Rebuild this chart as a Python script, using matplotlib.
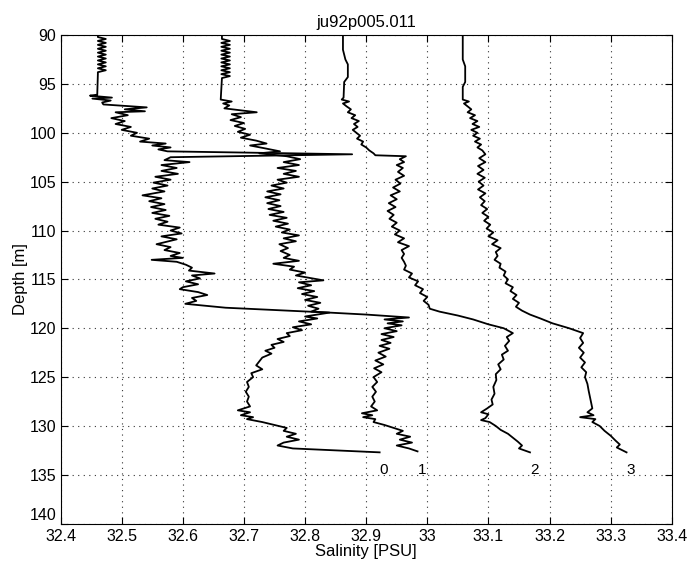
import matplotlib.pyplot as plt
import matplotlib.transforms as mtransforms

plt.rcParams['font.family'] = ['Liberation Sans', 'DejaVu Sans']

# cast 0
depth_0 = [90.0, 90.2, 90.4, 90.6, 90.8, 91.0, 91.2, 91.4, 91.6, 91.8, 92.0, 92.2, 92.4, 92.6,
           92.8, 93.0, 93.2, 93.4, 93.6, 93.8, 94.0, 96.1, 96.2, 96.4, 96.5, 96.7, 96.9, 97.1,
           97.4, 97.6, 97.8, 97.9, 98.2, 98.5, 98.8, 99.1, 99.4, 99.7, 100.0, 100.3, 100.6, 100.9,
           101.1, 101.3, 101.5, 101.7, 101.9, 102.2, 102.5, 102.8, 103.0, 103.3, 103.6, 103.9,
           104.2, 104.5, 104.8, 105.1, 105.4, 105.7, 106.0, 106.4, 106.7, 107.0, 107.3, 107.6,
           107.9, 108.2, 108.5, 108.8, 109.1, 109.4, 109.7, 110.0, 110.3, 110.6, 110.9, 111.2,
           111.4, 111.7, 112.0, 112.3, 112.6, 112.8, 113.0, 113.2, 113.5, 113.8, 114.1, 114.4,
           114.6, 114.9, 115.2, 115.5, 115.8, 116.0, 116.3, 116.6, 116.9, 117.2, 117.5, 117.9,
           118.4, 118.8, 119.0, 119.3, 119.6, 119.9, 120.2, 120.5, 120.8, 121.1, 121.4, 121.7,
           122.0, 122.3, 122.6, 123.0, 123.4, 123.8, 124.2, 124.6, 125.0, 125.5, 126.0, 126.5,
           127.0, 127.5, 128.0, 128.4, 128.6, 128.9, 129.1, 129.3, 129.6, 129.9, 130.2, 130.5,
           130.8, 131.1, 131.4, 131.7, 132.0, 132.3, 132.7]
sal_0 = [32.461, 32.461, 32.474, 32.461, 32.474, 32.461, 32.474, 32.461, 32.474, 32.461, 32.474,
         32.461, 32.474, 32.461, 32.474, 32.461, 32.474, 32.461, 32.474, 32.461, 32.461, 32.460,
         32.448, 32.484, 32.452, 32.482, 32.468, 32.470, 32.541, 32.505, 32.538, 32.490, 32.510,
         32.483, 32.505, 32.490, 32.515, 32.500, 32.525, 32.515, 32.545, 32.530, 32.572, 32.550,
         32.580, 32.560, 32.575, 32.877, 32.580, 32.570, 32.611, 32.565, 32.590, 32.565, 32.592,
         32.555, 32.580, 32.552, 32.575, 32.550, 32.570, 32.534, 32.565, 32.545, 32.570, 32.548,
         32.572, 32.550, 32.578, 32.555, 32.575, 32.560, 32.595, 32.580, 32.598, 32.565, 32.590,
         32.570, 32.557, 32.580, 32.570, 32.595, 32.580, 32.600, 32.549, 32.590, 32.605, 32.615,
         32.610, 32.652, 32.615, 32.628, 32.605, 32.625, 32.600, 32.595, 32.625, 32.640, 32.615,
         32.622, 32.604, 32.670, 32.840, 32.800, 32.820, 32.790, 32.810, 32.780, 32.795, 32.770,
         32.775, 32.755, 32.765, 32.745, 32.750, 32.735, 32.745, 32.730, 32.725, 32.720, 32.730,
         32.712, 32.715, 32.705, 32.708, 32.703, 32.708, 32.705, 32.710, 32.690, 32.710, 32.695,
         32.715, 32.705, 32.730, 32.750, 32.770, 32.765, 32.785, 32.770, 32.790, 32.765, 32.755,
         32.780, 32.922]

# cast 1
depth_1 = [90.0, 90.4, 90.6, 90.8, 91.0, 91.2, 91.4, 91.6, 91.8, 92.0, 92.2, 92.4, 92.6, 92.8,
           93.0, 93.2, 93.4, 93.6, 93.8, 94.0, 94.2, 94.4, 96.6, 96.8, 97.0, 97.2, 97.5, 97.9,
           98.1, 98.4, 98.7, 99.0, 99.3, 99.6, 99.9, 100.2, 100.5, 100.8, 101.1, 101.3, 101.6,
           101.9, 102.1, 102.4, 102.7, 103.0, 103.3, 103.6, 103.9, 104.2, 104.5, 104.8, 105.1,
           105.4, 105.7, 106.0, 106.3, 106.6, 106.9, 107.2, 107.5, 107.8, 108.1, 108.4, 108.7,
           109.0, 109.3, 109.6, 109.9, 110.2, 110.5, 110.8, 111.1, 111.4, 111.8, 112.1, 112.5,
           112.8, 113.1, 113.4, 113.7, 114.0, 114.3, 114.6, 114.9, 115.1, 115.3, 115.6, 115.9,
           116.2, 116.5, 116.8, 117.1, 117.4, 117.7, 118.0, 118.3, 118.6, 118.9, 119.1, 119.3,
           119.5, 119.7, 120.0, 120.3, 120.6, 120.9, 121.2, 121.5, 121.8, 122.1, 122.5, 122.9,
           123.3, 123.7, 124.1, 124.5, 125.0, 125.5, 126.0, 126.5, 127.0, 127.5, 128.0, 128.4,
           128.7, 128.9, 129.1, 129.3, 129.6, 129.9, 130.2, 130.5, 130.8, 131.1, 131.4, 131.7,
           132.0, 132.3, 132.6]
sal_1 = [32.664, 32.664, 32.677, 32.663, 32.677, 32.663, 32.677, 32.663, 32.677, 32.663, 32.677,
         32.663, 32.677, 32.663, 32.677, 32.663, 32.677, 32.663, 32.677, 32.663, 32.677, 32.664,
         32.662, 32.680, 32.666, 32.676, 32.668, 32.721, 32.680, 32.695, 32.678, 32.700, 32.685,
         32.702, 32.690, 32.710, 32.695, 32.720, 32.737, 32.710, 32.735, 32.759, 32.725, 32.770,
         32.792, 32.765, 32.790, 32.755, 32.785, 32.765, 32.790, 32.755, 32.770, 32.745, 32.765,
         32.738, 32.760, 32.735, 32.758, 32.738, 32.760, 32.740, 32.765, 32.742, 32.770, 32.748,
         32.772, 32.752, 32.775, 32.762, 32.790, 32.765, 32.785, 32.758, 32.772, 32.760, 32.775,
         32.765, 32.790, 32.748, 32.782, 32.775, 32.800, 32.785, 32.812, 32.830, 32.790, 32.810,
         32.788, 32.815, 32.795, 32.820, 32.800, 32.825, 32.805, 32.822, 32.810, 32.900, 32.970,
         32.930, 32.960, 32.935, 32.958, 32.930, 32.950, 32.925, 32.945, 32.925, 32.940, 32.922,
         32.938, 32.920, 32.932, 32.915, 32.928, 32.913, 32.925, 32.912, 32.918, 32.910, 32.916,
         32.910, 32.914, 32.908, 32.918, 32.893, 32.910, 32.895, 32.915, 32.912, 32.930, 32.945,
         32.960, 32.950, 32.972, 32.955, 32.975, 32.950, 32.970, 32.984]

# cast 2
depth_2 = [90.0, 91.5, 92.5, 93.0, 94.3, 94.8, 96.4, 96.6, 96.8, 97.0, 97.3, 97.6, 97.9, 98.2,
           98.5, 98.8, 99.1, 99.4, 99.7, 100.0, 100.3, 100.6, 100.9, 101.2, 101.5, 101.8, 102.1,
           102.3, 102.4, 102.7, 103.0, 103.3, 103.6, 104.0, 104.4, 104.8, 105.2, 105.6, 106.0,
           106.4, 106.8, 107.2, 107.6, 108.0, 108.4, 108.8, 109.2, 109.6, 110.0, 110.4, 110.8,
           111.2, 111.6, 112.0, 112.4, 112.8, 113.2, 113.6, 114.0, 114.4, 114.8, 115.2, 115.6,
           116.0, 116.4, 116.8, 117.2, 117.6, 118.0, 118.3, 118.7, 119.1, 119.6, 120.0, 120.5,
           120.9, 121.3, 121.8, 122.3, 122.7, 123.2, 123.7, 124.2, 124.7, 125.3, 126.0, 126.7,
           127.3, 127.8, 128.2, 128.6, 128.8, 129.2, 129.4, 129.6, 130.0, 130.4, 130.8, 131.2,
           131.6, 132.0, 132.3, 132.7]
sal_2 = [32.862, 32.862, 32.866, 32.870, 32.870, 32.864, 32.863, 32.860, 32.872, 32.862, 32.868,
         32.875, 32.870, 32.882, 32.876, 32.888, 32.880, 32.886, 32.878, 32.884, 32.890, 32.885,
         32.895, 32.892, 32.900, 32.905, 32.912, 32.915, 32.965, 32.955, 32.962, 32.950, 32.960,
         32.952, 32.962, 32.948, 32.956, 32.944, 32.955, 32.940, 32.950, 32.937, 32.948, 32.935,
         32.945, 32.938, 32.950, 32.942, 32.955, 32.947, 32.962, 32.952, 32.970, 32.958, 32.962,
         32.958, 32.962, 32.965, 32.962, 32.975, 32.970, 32.985, 32.980, 32.993, 32.988, 33.000,
         32.994, 33.002, 33.004, 33.020, 33.050, 33.075, 33.100, 33.125, 33.140, 33.130, 33.134,
         33.127, 33.132, 33.122, 33.125, 33.116, 33.120, 33.112, 33.113, 33.108, 33.110, 33.105,
         33.107, 33.098, 33.088, 33.100, 33.095, 33.088, 33.102, 33.112, 33.120, 33.132, 33.140,
         33.148, 33.155, 33.150, 33.168]

# cast 3
depth_3 = [90.0, 92.5, 93.2, 94.8, 95.3, 96.6, 96.8, 97.0, 97.3, 97.6, 97.9, 98.2, 98.5, 98.8,
           99.1, 99.4, 99.7, 100.0, 100.3, 100.6, 100.9, 101.2, 101.5, 101.8, 102.2, 102.6, 103.0,
           103.4, 103.8, 104.2, 104.6, 105.0, 105.4, 105.8, 106.2, 106.6, 107.0, 107.4, 107.8,
           108.2, 108.6, 109.0, 109.4, 109.8, 110.2, 110.6, 111.0, 111.4, 111.8, 112.2, 112.6,
           113.0, 113.4, 113.8, 114.2, 114.6, 115.0, 115.4, 115.8, 116.2, 116.6, 117.0, 117.4,
           117.8, 118.2, 118.6, 119.0, 119.5, 120.0, 120.5, 121.0, 121.5, 122.0, 122.5, 123.0,
           123.5, 124.0, 124.5, 125.0, 125.7, 126.4, 127.0, 127.6, 128.2, 128.6, 128.9, 129.1,
           129.3, 129.6, 130.0, 130.5, 131.0, 131.5, 131.9, 132.2, 132.7]
sal_3 = [33.058, 33.058, 33.062, 33.062, 33.058, 33.058, 33.068, 33.060, 33.066, 33.072, 33.066,
         33.078, 33.070, 33.082, 33.074, 33.085, 33.072, 33.082, 33.075, 33.086, 33.078, 33.088,
         33.082, 33.090, 33.095, 33.085, 33.095, 33.083, 33.092, 33.082, 33.094, 33.084, 33.092,
         33.083, 33.095, 33.086, 33.094, 33.088, 33.098, 33.090, 33.100, 33.093, 33.103, 33.097,
         33.108, 33.100, 33.115, 33.106, 33.120, 33.112, 33.115, 33.110, 33.120, 33.118, 33.128,
         33.125, 33.132, 33.128, 33.140, 33.136, 33.146, 33.140, 33.150, 33.145, 33.155, 33.168,
         33.185, 33.205, 33.232, 33.255, 33.250, 33.255, 33.248, 33.256, 33.250, 33.258, 33.252,
         33.260, 33.258, 33.262, 33.264, 33.266, 33.268, 33.270, 33.262, 33.272, 33.250, 33.275,
         33.270, 33.282, 33.290, 33.300, 33.308, 33.315, 33.310, 33.326]

cast_labels = ['0', '1', '2', '3']
depths = [depth_0, depth_1, depth_2, depth_3]
sals = [sal_0, sal_1, sal_2, sal_3]

x_ticks = [32.4, 32.5, 32.6, 32.7, 32.8, 32.9, 33.0, 33.1, 33.2, 33.3, 33.4]
x_ticklabels = ['32.4', '32.5', '32.6', '32.7', '32.8', '32.9', '33', '33.1', '33.2', '33.3', '33.4']
y_ticks = [90, 95, 100, 105, 110, 115, 120, 125, 130, 135, 140]

fig = plt.figure(figsize=(6.9, 5.61), dpi=100)
ax = fig.add_axes([0.0878, 0.0665, 0.8858, 0.871])

for d, s, lab in zip(depths, sals, cast_labels):
    ax.plot(s, d, color='k', lw=1.3)
    ax.text(s[-1], 134.5, lab, ha='left', va='center', fontsize=11)

ax.set_xlim(32.4, 33.4)
ax.set_ylim(140, 90)
ax.set_xticks(x_ticks)
ax.set_xticklabels(x_ticklabels)
ax.set_yticks(y_ticks)
ax.tick_params(direction='in', top=True, right=True, length=5, labelsize=11.5, pad=3)
ax.tick_params(axis='x', pad=4)
ax.grid(True, color='0.2', linestyle=(0, (1, 4)), lw=0.8)

# MATLAB draws the bottom depth label a little higher, clear of the 32.4
lbl = ax.get_yticklabels()[-1]
lbl.set_transform(lbl.get_transform() + mtransforms.ScaledTranslation(0, 7 / 72, fig.dpi_scale_trans))

ax.set_title('ju92p005.011', fontsize=12, pad=6)
ax.set_xlabel('Salinity [PSU]', fontsize=12, labelpad=0)
ax.set_ylabel('Depth [m]', fontsize=12, labelpad=1)

fig.savefig('out.png', dpi=100)
